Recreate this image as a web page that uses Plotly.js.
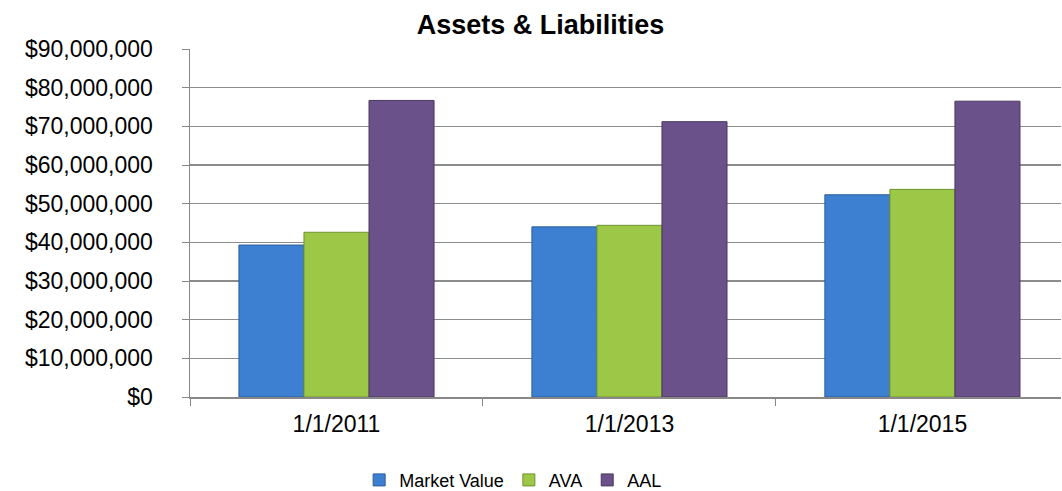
<!DOCTYPE html>
<html><head><meta charset="utf-8">
<script src="https://cdn.plot.ly/plotly-3.0.1.min.js"></script>
<style>html,body{margin:0;padding:0;background:#fff}#chart{width:1062px;height:491px}</style>
</head><body><div id="chart"></div>
<script>
const categories = ["1/1/2011", "1/1/2013", "1/1/2015"];
const marketValue = [39300000, 44000000, 52300000];
const ava = [42600000, 44400000, 53700000];
const aal = [76700000, 71200000, 76500000];
const seriesNames = ["Market Value", "AVA", "AAL"];
const tickVals = [0,10000000,20000000,30000000,40000000,50000000,60000000,70000000,80000000,90000000];

const colors = ["#3D80D2", "#9DC847", "#6B5189"];
const lines = ["#2A5C9A", "#6F9230", "#4A385F"];
const vals = [marketValue, ava, aal];
const traces = vals.map((v,i)=>({
  type:"bar", x:categories, y:v, name:seriesNames[i],
  marker:{color:colors[i], line:{color:lines[i], width:1}}
}));
const layout = {
  width:1062, height:491,
  margin:{l:190, r:1, t:49, b:94},
  paper_bgcolor:"#fff", plot_bgcolor:"#fff",
  font:{family:"Liberation Sans, Arial, sans-serif", size:23, color:"#000"},
  title:{text:"<b>Assets & Liabilities</b>", x:0.509, xanchor:"center", y:0.951, yanchor:"middle", font:{size:27}},
  barmode:"group", bargap:0.334, bargroupgap:0,
  xaxis:{type:"category", range:[-0.5, 2.473], tickson:"boundaries", ticks:"outside", ticklen:7, tickcolor:"#888",
    showline:true, linecolor:"#888", linewidth:1.5, showgrid:false, tickfont:{size:23}, ticklabelstandoff:6},
  yaxis:{range:[0,90000000], tickvals:tickVals, tickformat:"$,", ticks:"outside", ticklen:7, tickcolor:"#888",
    showline:true, linecolor:"#888", linewidth:1.5, gridcolor:"#8c8c8c", gridwidth:1.5, zeroline:false,
    tickfont:{size:23}, ticklabelstandoff:24},
  legend:{orientation:"h", xref:"paper", x:0.371, xanchor:"center", yref:"container", y:0.022, yanchor:"middle", font:{size:18}, itemwidth:30, traceorder:"normal", tracegroupgap:0},
  showlegend:true
};
Plotly.newPlot("chart", traces, layout, {displayModeBar:false, staticPlot:true});
</script></body></html>
